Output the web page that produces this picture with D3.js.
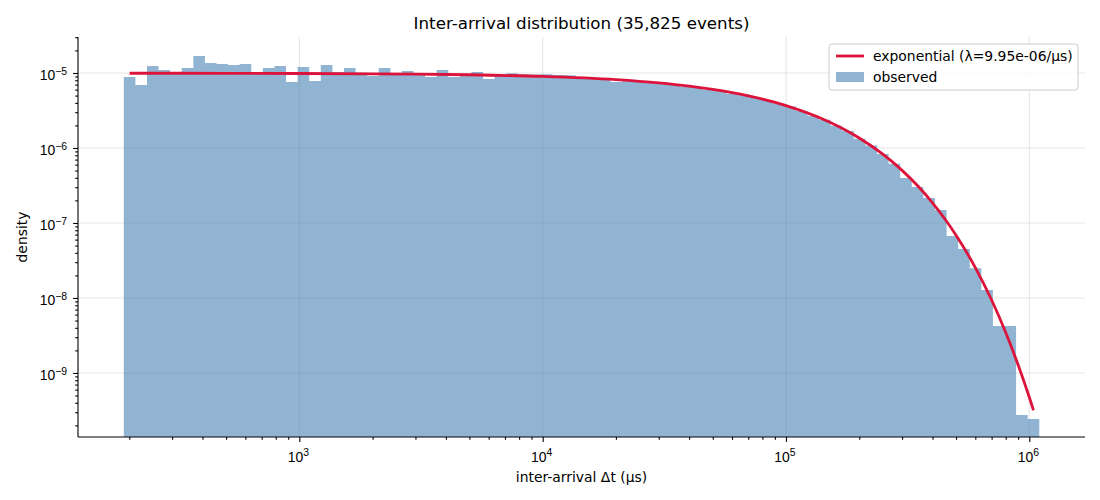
<!DOCTYPE html>
<html>
<head>
<meta charset="utf-8">
<script src="https://cdn.jsdelivr.net/npm/d3@7"></script>
<style>
body { margin: 0; background: #fff; }
svg { font-family: "DejaVu Sans", sans-serif; }
</style>
</head>
<body>
<svg id="chart" width="1100" height="500"></svg>
<script>
// histogram: 79 log-spaced bins between binLo and binHi (µs)
var binLo = 189.9;
var binHi = 1.0988e6;
var density = [
    8.84e-6, 6.92e-6, 1.24e-5, 1.10e-5, 1.03e-5, 1.17e-5, 1.69e-5, 1.36e-5, 1.32e-5, 1.28e-5,
    1.32e-5, 1.00e-5, 1.17e-5, 1.24e-5, 7.59e-6, 1.20e-5, 7.82e-6, 1.28e-5, 1.02e-5, 1.17e-5,
    1.01e-5, 9.12e-6, 1.17e-5, 9.95e-6, 1.06e-5, 9.85e-6, 8.84e-6, 1.10e-5, 8.84e-6, 9.70e-6,
    1.03e-5, 8.32e-6, 9.40e-6, 9.95e-6, 9.60e-6, 9.55e-6, 9.65e-6, 9.40e-6, 9.30e-6, 8.75e-6,
    8.60e-6, 8.45e-6, 7.60e-6, 7.95e-6, 7.80e-6, 7.50e-6, 7.35e-6, 7.00e-6, 6.55e-6, 6.50e-6,
    5.95e-6, 5.85e-6, 5.30e-6, 5.15e-6, 4.70e-6, 4.38e-6, 3.92e-6, 3.58e-6, 3.12e-6, 2.70e-6,
    2.38e-6, 1.98e-6, 1.68e-6, 1.33e-6, 1.08e-6, 8.30e-7, 6.15e-7, 3.98e-7, 3.02e-7, 2.15e-7,
    1.49e-7, 6.71e-8, 4.50e-8, 2.50e-8, 1.28e-8, 4.23e-9, 4.23e-9, 2.75e-10, 2.44e-10
];

// exponential fit
var curveT = [200.6, 500, 1000, 2000, 3000, 5000, 1e4, 2e4, 3e4, 4e4, 5e4, 7e4, 1e5, 1.5e5, 2e5,
    2.5e5, 3e5, 3.5e5, 4e5, 4.5e5, 5e5, 6e5, 7e5, 8e5, 9e5, 1e6, 1.0402e6];
var curveDensity = [9.93e-6, 9.90e-6, 9.85e-6, 9.75e-6, 9.66e-6, 9.47e-6, 9.01e-6, 8.16e-6, 7.38e-6,
    6.68e-6, 6.05e-6, 4.96e-6, 3.68e-6, 2.24e-6, 1.36e-6, 8.27e-7, 5.03e-7, 3.06e-7, 1.86e-7,
    1.13e-7, 6.87e-8, 2.54e-8, 9.39e-9, 3.47e-9, 1.28e-9, 4.75e-10, 3.18e-10];

var xMajor = [1e3, 1e4, 1e5, 1e6];
var yMajor = [1e-9, 1e-8, 1e-7, 1e-6, 1e-5];
var legendLabels = ["exponential (λ=9.95e-06/µs)", "observed"];
var titleText = "Inter-arrival distribution (35,825 events)";

var width = 1100, height = 500;
var margin = {top: 37, right: 15, bottom: 63, left: 78};
var fontSize = 13.9;

var svg = d3.select("#chart");

var x = d3.scaleLog()
    .domain([123.1, 1.694e6])
    .range([margin.left, width - margin.right]);
var y = d3.scaleLog()
    .domain([1.40e-10, 3.02e-5])
    .range([height - margin.bottom, margin.top]);

var x0 = margin.left, x1 = width - margin.right;
var y0 = height - margin.bottom, y1 = margin.top;

// grid (under everything)
var grid = svg.append("g");
grid.selectAll("line.gx")
    .data(xMajor)
    .enter()
    .append("line")
    .attr("x1", function(d) { return x(d); })
    .attr("x2", function(d) { return x(d); })
    .attr("y1", y0).attr("y2", y1)
    .attr("stroke", "#b0b0b0").attr("stroke-opacity", 0.3).attr("stroke-width", 1.1);
grid.selectAll("line.gy")
    .data(yMajor)
    .enter()
    .append("line")
    .attr("y1", function(d) { return y(d); })
    .attr("y2", function(d) { return y(d); })
    .attr("x1", x0).attr("x2", x1)
    .attr("stroke", "#b0b0b0").attr("stroke-opacity", 0.3).attr("stroke-width", 1.1);

// histogram as a filled step outline
var n = density.length;
var edges = d3.range(n + 1).map(function(i) { return binLo * Math.pow(binHi / binLo, i / n); });
var steps = density.map(function(d, i) { return {t: edges[i], v: d}; });
steps.push({t: edges[n], v: density[n - 1]});

var area = d3.area()
    .curve(d3.curveStepAfter)
    .x(function(d) { return x(d.t); })
    .y0(y0)
    .y1(function(d) { return y(d.v); });

svg.append("path")
    .datum(steps)
    .attr("d", area)
    .attr("fill", "steelblue")
    .attr("fill-opacity", 0.6);

// fitted curve
var line = d3.line()
    .curve(d3.curveMonotoneX)
    .x(function(d, i) { return x(curveT[i]); })
    .y(function(d) { return y(d); });

svg.append("path")
    .datum(curveDensity)
    .attr("d", line)
    .attr("fill", "none")
    .attr("stroke", "crimson")
    .attr("stroke-width", 2.8);

// minor tick values
function minors(lo, hi) {
    var out = [];
    for (var e = Math.floor(Math.log10(lo)); e <= Math.ceil(Math.log10(hi)); e++) {
        for (var m = 2; m <= 9; m++) {
            var v = m * Math.pow(10, e);
            if (v >= lo && v <= hi) out.push(v);
        }
    }
    return out;
}

function powLabel(sel, exp) {
    sel.text(null);
    sel.append("tspan").text("10");
    sel.append("tspan")
        .attr("dy", "-0.5em")
        .attr("font-size", "0.75em")
        .text(exp < 0 ? "\u2212" + (-exp) : exp);
}

// x axis
var gx = svg.append("g").attr("transform", "translate(0," + y0 + ")");
gx.call(d3.axisBottom(x).tickValues(minors(x.domain()[0], x.domain()[1])).tickSize(2.8).tickFormat(""));
gx.call(function(g) {
    var ga = g.append("g");
    ga.call(d3.axisBottom(x).tickValues(xMajor).tickSize(4.9).tickFormat(""));
    ga.select(".domain").remove();
});
gx.selectAll("line").attr("stroke-width", 1.1);
gx.select(".domain").attr("stroke-width", 1.1).attr("d", "M" + x0 + ",0H" + x1);

gx.selectAll("text.xl")
    .data(xMajor)
    .enter()
    .append("text")
    .attr("class", "xl")
    .attr("x", function(d) { return x(d) - 1; })
    .attr("y", 24.5)
    .attr("text-anchor", "middle")
    .attr("font-size", fontSize)
    .attr("fill", "#000")
    .each(function(d) { powLabel(d3.select(this), Math.round(Math.log10(d))); });

// y axis
var gy = svg.append("g").attr("transform", "translate(" + x0 + ",0)");
gy.call(d3.axisLeft(y).tickValues(minors(y.domain()[0], y.domain()[1])).tickSize(2.8).tickFormat(""));
gy.call(function(g) {
    var ga = g.append("g");
    ga.call(d3.axisLeft(y).tickValues(yMajor).tickSize(4.9).tickFormat(""));
    ga.select(".domain").remove();
});
gy.selectAll("line").attr("stroke-width", 1.1);
gy.select(".domain").attr("stroke-width", 1.1).attr("d", "M0," + y0 + "V" + y1);

gy.selectAll("text.yl")
    .data(yMajor)
    .enter()
    .append("text")
    .attr("class", "yl")
    .attr("x", -11)
    .attr("y", function(d) { return y(d) + 7; })
    .attr("text-anchor", "end")
    .attr("font-size", fontSize)
    .attr("fill", "#000")
    .each(function(d) { powLabel(d3.select(this), Math.round(Math.log10(d))); });

// labels
svg.append("text")
    .attr("x", (x0 + x1) / 2)
    .attr("y", 28.5)
    .attr("text-anchor", "middle")
    .attr("font-size", 16.7)
    .text(titleText);

svg.append("text")
    .attr("x", (x0 + x1) / 2)
    .attr("y", 482)
    .attr("text-anchor", "middle")
    .attr("font-size", fontSize)
    .text("inter-arrival \u0394t (\u00b5s)");

svg.append("text")
    .attr("transform", "translate(27," + ((y0 + y1) / 2) + ") rotate(-90)")
    .attr("text-anchor", "middle")
    .attr("font-size", fontSize)
    .text("density");

// legend
var lg = svg.append("g").attr("transform", "translate(829,44)");
lg.append("rect")
    .attr("width", 249).attr("height", 46)
    .attr("rx", 3).attr("ry", 3)
    .attr("fill", "#fff").attr("fill-opacity", 0.8)
    .attr("stroke", "#cccccc").attr("stroke-width", 1);
lg.append("line")
    .attr("x1", 7).attr("x2", 35).attr("y1", 12).attr("y2", 12)
    .attr("stroke", "crimson").attr("stroke-width", 2.8);
lg.append("rect")
    .attr("x", 7).attr("y", 28).attr("width", 28).attr("height", 10)
    .attr("fill", "steelblue").attr("fill-opacity", 0.6);
lg.selectAll("text")
    .data(legendLabels)
    .enter()
    .append("text")
    .attr("x", 44)
    .attr("y", function(d, i) { return 17 + i * 21; })
    .attr("font-size", fontSize)
    .text(function(d) { return d; });
</script>
</body>
</html>
